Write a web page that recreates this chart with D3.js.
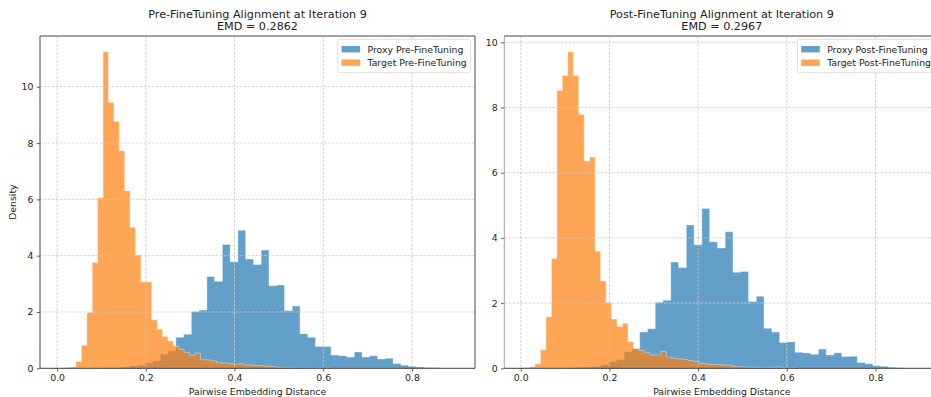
<!DOCTYPE html>
<html>
<head>
<meta charset="utf-8">
<script src="https://cdn.jsdelivr.net/npm/d3@7"></script>
<style>
  html, body { margin: 0; padding: 0; overflow: hidden; background: #fff; }
  svg { display: block; font-family: "DejaVu Sans", sans-serif; }
</style>
</head>
<body>
<svg id="chart" width="931" height="397"></svg>
<script>
// histogram densities, 50 bins each: first edge + bin width
const proxyPreStart = 0.0227, proxyPreWidth = 0.0175;
const proxyPre = [0, 0, 0.003, 0.005, 0.01, 0.02, 0.03, 0.05,
  0.08, 0.12, 0.20, 0.27, 0.50, 0.62, 1.10, 1.21, 2.02, 2.07,
  3.26, 3.09, 4.40, 3.78, 4.90, 3.88, 3.69, 4.20, 2.93, 2.96,
  2.05, 2.21, 1.23, 1.10, 0.77, 0.77, 0.47, 0.45, 0.40, 0.58,
  0.40, 0.45, 0.33, 0.36, 0.17, 0.11, 0.07, 0.05, 0.03, 0.02, 0.005, 0.003];

const targetPreStart = 0.006, targetPreWidth = 0.0122;
const targetPre = [0.01, 0.03, 0.05, 0.24, 0.82, 1.98, 3.76, 6.06, 11.24, 9.44,
  8.77, 7.73, 6.31, 5.01, 4.02, 3.07, 3.07, 1.72, 1.39, 1.13,
  0.97, 0.79, 0.67, 0.57, 0.47, 0.54, 0.32, 0.30, 0.26, 0.21,
  0.19, 0.17, 0.14, 0.16, 0.12, 0.11, 0.10, 0.09, 0.07, 0.06,
  0.04, 0.03, 0.02, 0.02, 0.01, 0.01, 0.01, 0.005, 0.005, 0.005];

const proxyPostStart = 0.0228, proxyPostWidth = 0.01753;
const proxyPost = [0, 0, 0.003, 0.005, 0.01, 0.02, 0.03, 0.04,
  0.06, 0.11, 0.20, 0.27, 0.51, 0.60, 1.11, 1.21, 2.03, 2.09,
  3.26, 3.09, 4.40, 3.79, 4.90, 3.88, 3.69, 4.19, 2.95, 2.97,
  2.05, 2.21, 1.23, 1.11, 0.79, 0.81, 0.49, 0.47, 0.43, 0.59,
  0.41, 0.48, 0.36, 0.37, 0.18, 0.14, 0.08, 0.06, 0.03, 0.02, 0.005, 0.003];

const targetPostStart = 0.0075, targetPostWidth = 0.01233;
const targetPost = [0.02, 0.05, 0.13, 0.57, 1.58, 3.37, 8.53, 8.98, 9.71, 8.98,
  7.79, 6.36, 6.48, 3.59, 2.68, 2.02, 1.51, 1.28, 1.38, 0.82,
  0.61, 0.55, 0.48, 0.41, 0.41, 0.52, 0.34, 0.31, 0.29, 0.27,
  0.24, 0.21, 0.15, 0.13, 0.12, 0.12, 0.10, 0.10, 0.06, 0.05,
  0.04, 0.03, 0.03, 0.02, 0.02, 0.03, 0.04, 0.02, 0.01, 0.01];

const xTicks = [0, 0.2, 0.4, 0.6, 0.8];
const yTicks = [0, 2, 4, 6, 8, 10];

const panels = [
  { left: 40, title: "Pre-FineTuning Alignment at Iteration 9", emd: "EMD = 0.2862", ylabel: "Density",
    series: [
      { name: "Proxy Pre-FineTuning", start: proxyPreStart, width: proxyPreWidth, values: proxyPre, color: "#1f77b4" },
      { name: "Target Pre-FineTuning", start: targetPreStart, width: targetPreWidth, values: targetPre, color: "#ff7f0e" }
    ] },
  { left: 504.3, title: "Post-FineTuning Alignment at Iteration 9", emd: "EMD = 0.2967", ylabel: null, leftSpine: "#9a9a9a",
    series: [
      { name: "Proxy Post-FineTuning", start: proxyPostStart, width: proxyPostWidth, values: proxyPost, color: "#1f77b4" },
      { name: "Target Post-FineTuning", start: targetPostStart, width: targetPostWidth, values: targetPost, color: "#ff7f0e" }
    ] }
];

const W = 435, plotTop = 36, plotBottom = 368.3;
const fs = 9.3, titleFs = 11.2, ink = "#222";
const svg = d3.select("#chart");

panels.forEach(p => {
  // bins -> step points
  p.series.forEach(s => {
    s.points = s.values.map((v, i) => ({ x: s.start + i * s.width, v }));
    s.points.push({ x: s.start + s.values.length * s.width, v: s.values[s.values.length - 1] });
  });
  const xmin = d3.min(p.series, s => s.start);
  const xmax = d3.max(p.series, s => s.start + s.values.length * s.width);
  const pad = (xmax - xmin) * 0.05;
  const ymax = d3.max(p.series, s => d3.max(s.values)) * 1.05;

  const x = d3.scaleLinear().domain([xmin - pad, xmax + pad]).range([p.left, p.left + W]);
  const y = d3.scaleLinear().domain([0, ymax]).range([plotBottom, plotTop]);

  const g = svg.append("g");

  // bars (step filled)
  const area = d3.area().x(d => x(d.x)).y0(y(0)).y1(d => y(d.v)).curve(d3.curveStepAfter);
  const line = d3.line().x(d => x(d.x)).y(d => y(d.v)).curve(d3.curveStepAfter);
  p.series.forEach(s => {
    g.append("path").datum(s.points)
      .attr("d", area)
      .attr("fill", s.color)
      .attr("fill-opacity", 0.7);
    g.append("path").datum(s.points)
      .attr("d", line)
      .attr("fill", "none")
      .attr("stroke", "#fff")
      .attr("stroke-opacity", 0.45)
      .attr("stroke-width", 0.8);
  });

  // grid, above the bars like matplotlib
  const grid = g.append("g")
    .attr("stroke", "#c8c8c8")
    .attr("stroke-width", 0.75)
    .attr("stroke-dasharray", "2.8,1.2");
  grid.selectAll(".gx").data(xTicks).enter().append("line")
    .attr("x1", d => x(d)).attr("x2", d => x(d))
    .attr("y1", plotTop).attr("y2", plotBottom);
  grid.selectAll(".gy").data(yTicks).enter().append("line")
    .attr("x1", p.left).attr("x2", p.left + W)
    .attr("y1", d => y(d)).attr("y2", d => y(d));

  // axes
  const xAxis = g.append("g")
    .attr("transform", `translate(0,${plotBottom})`)
    .call(d3.axisBottom(x).tickValues(xTicks).tickFormat(d3.format(".1f")).tickSizeOuter(0).tickSize(3.3).tickPadding(3.3));
  const yAxis = g.append("g")
    .attr("transform", `translate(${p.left},0)`)
    .call(d3.axisLeft(y).tickValues(yTicks).tickFormat(d3.format("d")).tickSizeOuter(0).tickSize(3.3).tickPadding(3.3));
  [xAxis, yAxis].forEach(a => {
    a.select(".domain").remove();
    a.selectAll("line").attr("stroke", "#333").attr("stroke-width", 0.75);
    a.selectAll("text").attr("fill", ink).style("font-size", fs + "px").style("font-family", "DejaVu Sans");
  });

  // spines
  const sp = g.append("g").attr("fill", "none").attr("stroke-width", 0.9);
  sp.append("line").attr("x1", p.left).attr("x2", p.left).attr("y1", plotTop).attr("y2", plotBottom).attr("stroke", p.leftSpine || "#333");
  sp.append("line").attr("x1", p.left + W).attr("x2", p.left + W).attr("y1", plotTop).attr("y2", plotBottom).attr("stroke", "#333");
  sp.append("line").attr("x1", p.left).attr("x2", p.left + W).attr("y1", plotTop).attr("y2", plotTop).attr("stroke", "#333");
  sp.append("line").attr("x1", p.left).attr("x2", p.left + W).attr("y1", plotBottom).attr("y2", plotBottom).attr("stroke", "#333");

  // titles
  const cx = p.left + W / 2;
  g.append("text").attr("x", cx).attr("y", 18.4).attr("text-anchor", "middle")
    .style("font-size", titleFs + "px").attr("fill", ink).text(p.title);
  g.append("text").attr("x", cx).attr("y", 29.6).attr("text-anchor", "middle")
    .style("font-size", titleFs + "px").attr("fill", ink).text(p.emd);

  g.append("text").attr("x", cx).attr("y", 394.5).attr("text-anchor", "middle")
    .style("font-size", fs + "px").attr("fill", ink).text("Pairwise Embedding Distance");
  if (p.ylabel) {
    g.append("text").attr("transform", `translate(16,${(plotTop + plotBottom) / 2}) rotate(-90)`)
      .attr("text-anchor", "middle")
      .style("font-size", fs + "px").attr("fill", ink).text(p.ylabel);
  }

  // legend
  const leg = g.append("g");
  const box = leg.append("rect");
  const labels = p.series.map((s, i) => leg.append("text")
    .attr("y", 52.5 + i * 13.5)
    .style("font-size", fs + "px").attr("fill", ink).text(s.name));
  const textW = d3.max(labels, t => t.node().getComputedTextLength());
  const boxW = 3.7 + 18.6 + 7.4 + textW + 3.7;
  const bx = p.left + W - 4.6 - boxW;
  box.attr("x", bx).attr("y", 39.3).attr("width", boxW).attr("height", 33.4)
    .attr("rx", 2).attr("fill", "#fff").attr("fill-opacity", 0.8)
    .attr("stroke", "#d6d6d6").attr("stroke-width", 0.8);
  labels.forEach(t => t.attr("x", bx + 3.7 + 18.6 + 7.4));
  p.series.forEach((s, i) => {
    leg.append("rect").attr("x", bx + 3.7).attr("y", 49.2 + i * 13.5 - 3.2)
      .attr("width", 18.6).attr("height", 6.4)
      .attr("fill", s.color).attr("fill-opacity", 0.7);
  });
});
</script>
</body>
</html>
